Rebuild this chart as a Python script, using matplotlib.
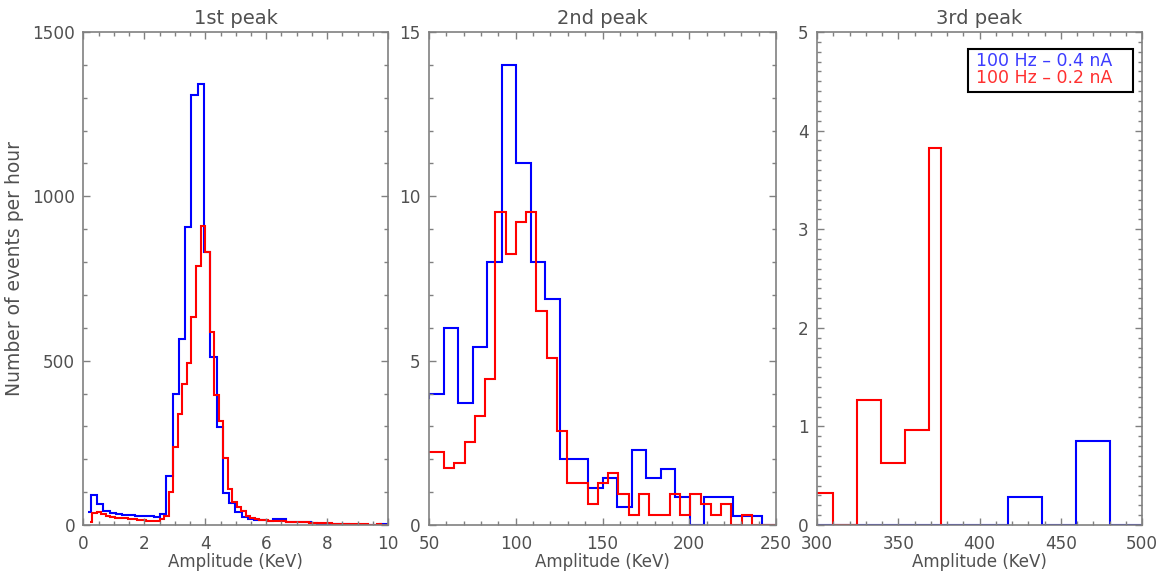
import numpy as np
import matplotlib
matplotlib.use('Agg')
import matplotlib.pyplot as plt
from matplotlib.ticker import MultipleLocator

plt.rcParams['font.family'] = 'DejaVu Sans'

# ---- data (events per hour) ----
# 1st peak, blue: 100 Hz - 0.4 nA
p1_blue_x0, p1_blue_dx = 0.137, 0.2065
p1_blue = [40, 91, 64, 44, 35, 33, 30, 30, 28, 27, 27, 25, 33, 150, 399, 565,
           908, 1309, 1343, 832, 510, 297, 98, 68, 40, 25, 17, 15, 14, 12, 19,
           18, 10, 9, 8, 8, 6, 3, 3, 3, 2, 2, 1, 1, 1, 0, 0, 3, 3]
# 1st peak, red: 100 Hz - 0.2 nA
p1_red_x0, p1_red_dx = 0.205, 0.1485
p1_red = [9, 36, 40, 33, 28, 25, 22, 20, 20, 18, 17, 15, 15, 13, 12, 12, 18,
          28, 99, 238, 337, 428, 492, 634, 788, 910, 832, 587, 395, 317, 205,
          110, 69, 56, 44, 28, 22, 18, 15, 14, 13, 12, 12, 11, 10, 10, 9, 9,
          8, 7, 6, 6, 5, 5, 4, 4, 3, 3, 3, 2, 2, 2, 1, 1, 2, 1, 1]

# 2nd peak
p2_blue_x0, p2_blue_dx = 46.0, 8.34
p2_blue = [3.86, 4.0, 6.0, 3.7, 5.43, 8.0, 14.0, 11.0, 8.0, 6.87, 2.0, 2.0,
           1.14, 1.42, 0.56, 2.28, 1.42, 1.70, 0.84, 0, 0.84, 0.84, 0.27,
           0.27, 0, 0]
p2_red_x0, p2_red_dx = 49.83, 5.913
p2_red = [2.23, 2.23, 1.74, 1.90, 2.54, 3.33, 4.45, 9.53, 8.25, 9.23, 9.53,
          6.51, 5.07, 2.87, 1.29, 1.29, 0.64, 1.29, 1.59, 0.94, 0.30, 0.94,
          0.30, 0.30, 0.94, 0.30, 0.94, 0.64, 0.30, 0.64, 0, 0.30, 0, 0, 0]

# 3rd peak
p3_blue_x0, p3_blue_dx = 281.0, 21.0
p3_blue = [0, 0, 0, 0, 0, 0, 0, 0.28, 0, 0.855, 0, 0]
p3_red_x0, p3_red_dx = 287.4, 14.8
p3_red = [0.32, 0.32, 0, 1.27, 0.63, 0.96, 3.82]

titles = ['1st peak', '2nd peak', '3rd peak']
legend_labels = ['100 Hz \u2013 0.4 nA', '100 Hz \u2013 0.2 nA']

BLUE = '#0000ff'
RED = '#ff0000'
GRAY = '#808080'
TXT = '#505050'


def idl_edges(x0, dx, n):
    """edges like IDL psym=10: steps centred on each point, half bins at ends"""
    c = x0 + dx * np.arange(n)
    return np.concatenate([[c[0]], (c[:-1] + c[1:]) / 2, [c[-1]]])


def style_axis(ax, xlim, ylim, xmaj, xmin, ymaj, ymin):
    ax.set_xlim(*xlim)
    ax.set_ylim(*ylim)
    ax.xaxis.set_major_locator(MultipleLocator(xmaj))
    ax.xaxis.set_minor_locator(MultipleLocator(xmin))
    ax.yaxis.set_major_locator(MultipleLocator(ymaj))
    ax.yaxis.set_minor_locator(MultipleLocator(ymin))
    ax.tick_params(which='both', direction='in', top=True, right=True,
                   color=GRAY, labelcolor=TXT, labelsize=12.2)
    ax.tick_params(which='major', length=5, width=1.0)
    ax.tick_params(which='minor', length=2.6, width=1.0)
    ax.tick_params(axis='x', pad=7)
    ax.tick_params(axis='y', pad=6)
    for sp in ax.spines.values():
        sp.set_color(GRAY)
        sp.set_linewidth(1.2)
    ax.set_xlabel('Amplitude (KeV)', fontsize=12, color=TXT)
    ax.xaxis.set_label_coords(0.5, -0.056)


fig = plt.figure(figsize=(11.63, 5.73), dpi=100)
W, H = 1163.0, 573.0
bottom = 1 - 525 / H
height = (525 - 32) / H
ax1 = fig.add_axes([83.5 / W, bottom, (388 - 83.5) / W, height])
ax2 = fig.add_axes([429 / W, bottom, (776 - 429) / W, height])
ax3 = fig.add_axes([817 / W, bottom, (1142 - 817) / W, height])

# 1st peak
ax1.stairs(p1_blue, idl_edges(p1_blue_x0, p1_blue_dx, len(p1_blue)),
           baseline=None, color=BLUE, lw=1.5)
ax1.stairs(p1_red, idl_edges(p1_red_x0, p1_red_dx, len(p1_red)),
           baseline=None, color=RED, lw=1.5)
style_axis(ax1, (0, 10), (0, 1500), 2, 0.5, 500, 100)
ax1.set_ylabel('Number of events per hour', fontsize=13.5, color=TXT)
ax1.yaxis.set_label_coords(-0.195, 0.52)

# 2nd peak
ax2.stairs(p2_blue, idl_edges(p2_blue_x0, p2_blue_dx, len(p2_blue)),
           baseline=None, color=BLUE, lw=1.5)
ax2.stairs(p2_red, idl_edges(p2_red_x0, p2_red_dx, len(p2_red)),
           baseline=None, color=RED, lw=1.5)
style_axis(ax2, (50, 250), (0, 15), 50, 10, 5, 1)

# 3rd peak
ax3.stairs(p3_blue, idl_edges(p3_blue_x0, p3_blue_dx, len(p3_blue)),
           baseline=None, color=BLUE, lw=1.5)
ax3.stairs(p3_red, idl_edges(p3_red_x0, p3_red_dx, len(p3_red)),
           baseline=0, color=RED, lw=1.5)
style_axis(ax3, (300, 500), (0, 5), 50, 10, 1, 0.1)

for ax, t in zip([ax1, ax2, ax3], titles):
    ax.set_title(t, fontsize=14, color=TXT, pad=6)

# legend box in the 3rd panel
leg_box = plt.Rectangle((0.465, 0.878), 0.508, 0.087, transform=ax3.transAxes,
                        facecolor='white', edgecolor='black', lw=1.5, zorder=5)
ax3.add_patch(leg_box)
ax3.text(0.488, 0.942, legend_labels[0], transform=ax3.transAxes, color='#3c3cff',
         fontsize=12.5, va='center', ha='left', zorder=6)
ax3.text(0.488, 0.906, legend_labels[1], transform=ax3.transAxes, color='#ff3030',
         fontsize=12.5, va='center', ha='left', zorder=6)

plt.savefig('out.png', dpi=100)
plt.close()
